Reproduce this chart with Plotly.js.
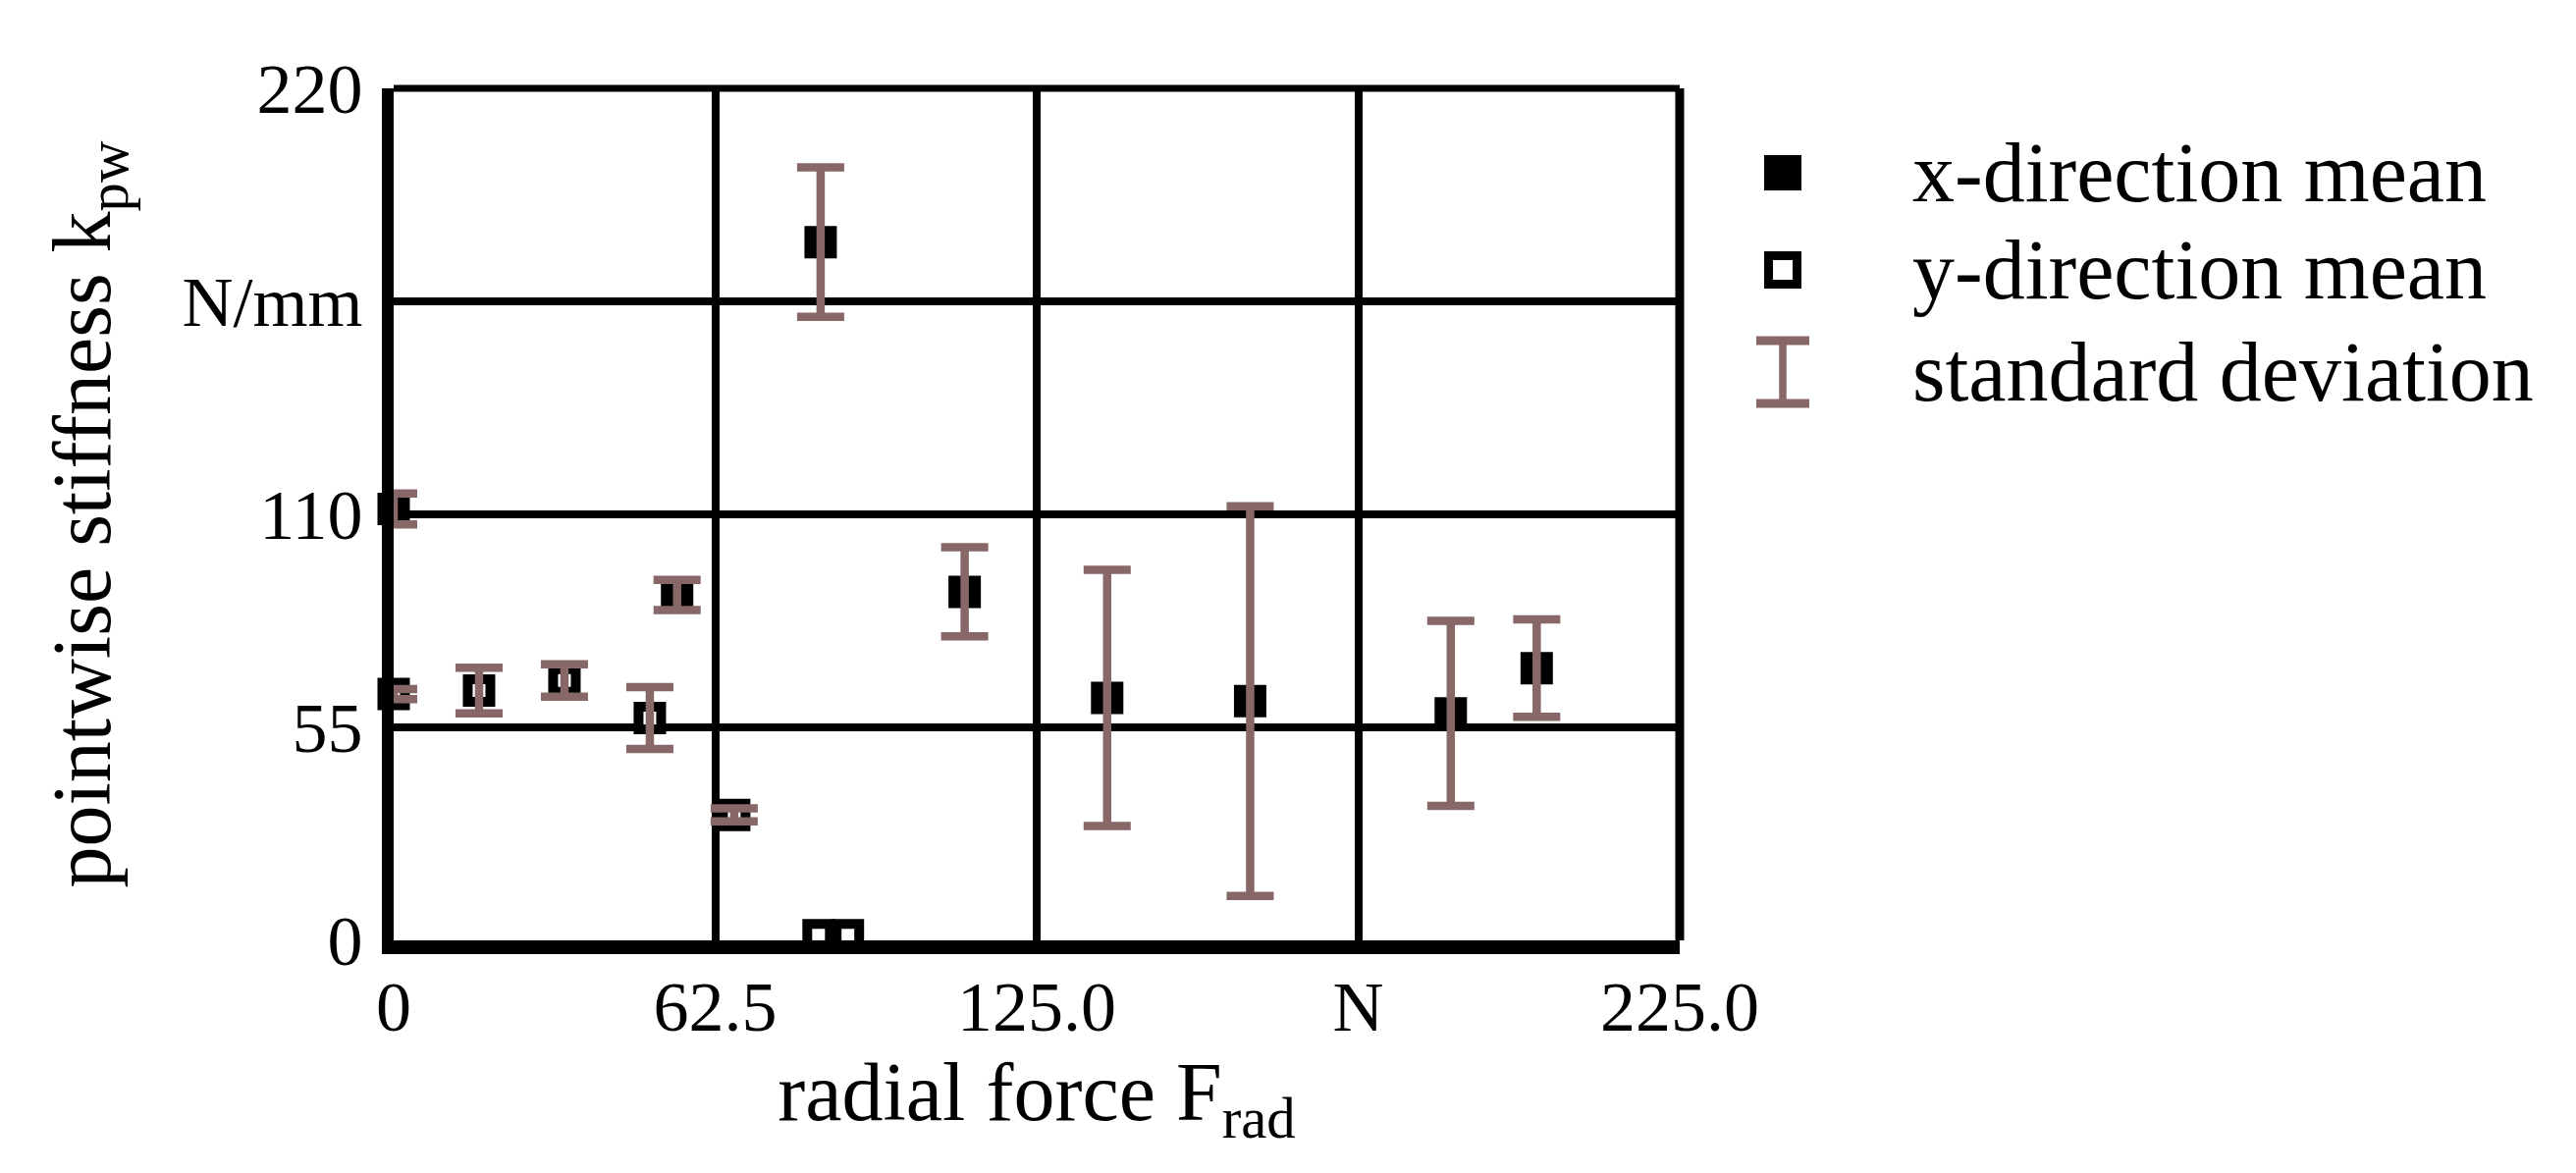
<!DOCTYPE html>
<html>
<head>
<meta charset="utf-8">
<script src="https://cdn.plot.ly/plotly-3.0.1.min.js"></script>
<style>html,body{margin:0;padding:0;background:#fff;}</style>
</head>
<body>
<div id="chart" style="width:2624px;height:1195px;"></div>
<script>
// x-direction mean (filled squares)
const forceX = [0, 55.1, 83.0, 111.0, 138.7, 166.5, 205.5, 222.2];
const stiffX = [111.4, 89.2, 180.3, 90.0, 62.6, 61.8, 58.6, 70.3];
const sdX    = [4.0, 3.9, 19.3, 11.5, 33.1, 50.3, 23.9, 12.6];
// y-direction mean (open squares)
const forceY = [0, 16.6, 33.2, 49.8, 66.2, 82.6, 88.3];
const stiffY = [63.6, 64.5, 67.1, 57.4, 32.4, 1.3, 1.3];
const sdY    = [1.3, 5.9, 4.2, 8.0, 1.7, null, null];
// axis ticks
const xTickVals = [0, 62.5, 125, 187.5, 250];
const xTickText = ['0', '62.5', '125.0', 'N', '225.0'];
const yTickVals = [0, 55, 110, 165, 220];
const yTickText = ['0', '55', '110', 'N/mm', '220'];
// legend labels
const legendLabels = ['x-direction mean', 'y-direction mean', 'standard deviation'];

const BROWN = '#876767';
const FONT = 'Liberation Serif, Times New Roman, serif';

const allF = forceX.concat(forceY);
const allK = stiffX.concat(stiffY);
const allS = sdX.concat(sdY);
const idx = allS.map((s, i) => i).filter(i => allS[i] !== null);

const traces = [
  {
    type: 'scatter', mode: 'markers', name: legendLabels[0],
    x: forceX, y: stiffX, cliponaxis: false,
    marker: {symbol: 'square', size: 33, color: '#000', line: {width: 0}}
  },
  {
    type: 'scatter', mode: 'markers', name: legendLabels[1],
    x: forceY, y: stiffY, cliponaxis: false,
    marker: {symbol: 'square', size: 23, color: '#fff', line: {width: 10, color: '#000'}}
  },
  {
    type: 'scatter', mode: 'markers', name: legendLabels[2],
    x: idx.map(i => allF[i]), y: idx.map(i => allK[i]), cliponaxis: false,
    marker: {size: 1, opacity: 0},
    error_y: {type: 'data', array: idx.map(i => allS[i]), visible: true,
              color: BROWN, thickness: 8.5, width: 24}
  }
];

const L = 401, R = 1711, T = 90, B = 958;
const W = R - L, H = B - T;
const px = v => (v - L) / W;
const py = v => (B - v) / H;

const symX = px(1816);
const rowY = [py(176), py(275), py(379)];
const textX = px(1946);

const shapes = [
  // frame top and right
  {type: 'line', xref: 'paper', yref: 'paper', x0: 0, x1: 1, y0: 1, y1: 1, line: {color: '#000', width: 7}},
  {type: 'line', xref: 'paper', yref: 'paper', x0: 1, x1: 1, y0: 0, y1: 1, line: {color: '#000', width: 9}},
  // legend symbols
  {type: 'rect', xref: 'paper', yref: 'paper', xsizemode: 'pixel', ysizemode: 'pixel',
   xanchor: symX, yanchor: rowY[0], x0: -19, x1: 19, y0: -18, y1: 18,
   fillcolor: '#000', line: {width: 0}},
  {type: 'rect', xref: 'paper', yref: 'paper', xsizemode: 'pixel', ysizemode: 'pixel',
   xanchor: symX, yanchor: rowY[1], x0: -14.5, x1: 14.5, y0: -14.5, y1: 14.5,
   fillcolor: '#fff', line: {width: 9, color: '#000'}},
  {type: 'line', xref: 'paper', yref: 'paper', xsizemode: 'pixel', ysizemode: 'pixel',
   xanchor: symX, yanchor: rowY[2], x0: -27, x1: 27, y0: 32, y1: 32, line: {color: BROWN, width: 9}},
  {type: 'line', xref: 'paper', yref: 'paper', xsizemode: 'pixel', ysizemode: 'pixel',
   xanchor: symX, yanchor: rowY[2], x0: -27, x1: 27, y0: -32, y1: -32, line: {color: BROWN, width: 9}},
  {type: 'line', xref: 'paper', yref: 'paper', xsizemode: 'pixel', ysizemode: 'pixel',
   xanchor: symX, yanchor: rowY[2], x0: 0, x1: 0, y0: -32, y1: 32, line: {color: BROWN, width: 7.5}}
];

const annotations = legendLabels.map((t, i) => ({
  xref: 'paper', yref: 'paper', x: textX, y: rowY[i], xanchor: 'left', yanchor: 'middle',
  text: t, showarrow: false, font: {family: FONT, size: 86, color: '#000'}
}));

const layout = {
  width: 2624, height: 1195,
  margin: {l: L, r: 2624 - R, t: T, b: 1195 - B, pad: 0},
  paper_bgcolor: '#fff', plot_bgcolor: '#fff',
  showlegend: false,
  font: {family: FONT, color: '#000'},
  xaxis: {
    range: [0, 250], tickmode: 'array', tickvals: xTickVals, ticktext: xTickText,
    showgrid: true, gridcolor: '#000', gridwidth: 8,
    showline: true, linecolor: '#000', linewidth: 14, mirror: false,
    zeroline: false, ticks: '', ticklabelstandoff: -8,
    tickfont: {family: FONT, size: 72, color: '#000'},
    title: {text: 'radial force F<sub>rad</sub>', font: {family: FONT, size: 84, color: '#000'}, standoff: 23},
    fixedrange: true
  },
  yaxis: {
    range: [0, 220], tickmode: 'array', tickvals: yTickVals, ticktext: yTickText,
    showgrid: true, gridcolor: '#000', gridwidth: 8,
    showline: true, linecolor: '#000', linewidth: 12, mirror: false,
    zeroline: false, ticks: '', ticklabelstandoff: 5,
    tickfont: {family: FONT, size: 72, color: '#000'},
    title: {text: 'pointwise stiffness k<sub>pw</sub>', font: {family: FONT, size: 84, color: '#000'}, standoff: 50},
    fixedrange: true
  },
  shapes: shapes,
  annotations: annotations
};

Plotly.newPlot('chart', traces, layout, {displayModeBar: false, staticPlot: true});
</script>
</body>
</html>
